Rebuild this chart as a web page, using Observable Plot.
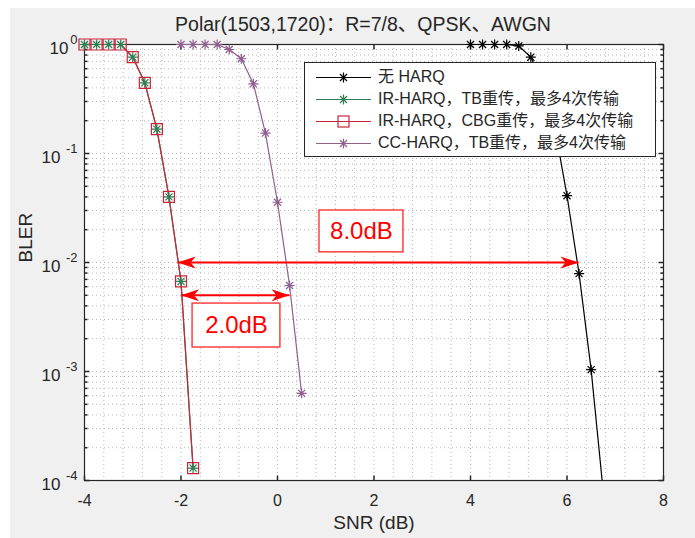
<!DOCTYPE html>
<html><head><meta charset="utf-8">
<script src="https://cdn.jsdelivr.net/npm/d3@7"></script>
<script src="https://cdn.jsdelivr.net/npm/@observablehq/plot@0.6"></script>
<style>
body{margin:0;background:#fff;font-family:"Liberation Sans","Noto Sans CJK SC",sans-serif;}
#wrap{position:relative;width:695px;height:538px;overflow:hidden;background:#fff}
#bg{position:absolute;left:10px;top:8px;width:685px;height:530px;background:#f0f0f0}
#chart{position:absolute;left:0;top:0}
#legend{position:absolute;left:304px;top:62px;width:350px;height:93px;background:#fff;border:1px solid #262626}
.row{position:absolute;left:0;height:22px;width:350px}
.row svg{position:absolute;left:0;top:0}
.row span{position:absolute;left:73px;top:0;line-height:22px;font-size:16px;color:#262626;white-space:nowrap}
</style></head>
<body>
<div id="wrap"><div id="bg"></div><div id="chart"></div><div id="legend"></div></div>
<script>
// ---- data ----
const titleText = "Polar(1503,1720)：R=7/8、QPSK、AWGN";
const xLabel = "SNR (dB)";
const yLabel = "BLER";
const seriesNames = ["无 HARQ", "IR-HARQ，TB重传，最多4次传输", "IR-HARQ，CBG重传，最多4次传输", "CC-HARQ，TB重传，最多4次传输"];
const seriesColors = ["#000000", "#2d7f54", "#c8253a", "#8f5f8f"];
const seriesSymbols = ["star", "star", "square", "star"];

const snrNoHarq = [4, 4.25, 4.5, 4.75, 5, 5.25, 5.5, 5.75, 6, 6.25, 6.5, 6.75];
const blerNoHarq = [1, 1, 1, 1, 0.97, 0.765, 0.45, 0.17, 0.041, 0.0079, 0.00104, 0.00008];
const snrIR = [-4, -3.75, -3.5, -3.25, -3, -2.75, -2.5, -2.25, -2, -1.75];
const blerIrTb = [1, 1, 1, 1, 0.765, 0.445, 0.167, 0.040, 0.0067, 0.00013];
const blerIrCbg = [1, 1, 1, 1, 0.765, 0.445, 0.167, 0.040, 0.0067, 0.00013];
const snrCC = [-2, -1.75, -1.5, -1.25, -1, -0.75, -0.5, -0.25, 0, 0.25, 0.5];
const blerCC = [1, 1, 1, 1, 0.90, 0.74, 0.436, 0.154, 0.0357, 0.00615, 0.00063];

const xTicks = [-4, -2, 0, 2, 4, 6, 8];
const yTickExps = [0, -1, -2, -3, -4];

const gapArrows = [
  {x1: -2.07, x2: 6.24, y: 0.01},
  {x1: -2.0, x2: 0.25, y: 0.005}
];
const gapBoxes = [
  {label: "8.0dB", x1: 0.87, x2: 2.61, y1: 0.0124, y2: 0.030},
  {label: "2.0dB", x1: -1.76, x2: 0.06, y1: 0.00166, y2: 0.0042}
];

// ---- build table ----
const seriesX = [snrNoHarq, snrIR, snrIR, snrCC];
const seriesY = [blerNoHarq, blerIrTb, blerIrCbg, blerCC];
const rows = [];
seriesNames.forEach((name, i) => seriesX[i].forEach((x, j) => rows.push({series: name, i, snr: x, bler: seriesY[i][j]})));

// ---- symbols ----
const star = {draw(ctx, size) { const r = Math.sqrt(size / Math.PI);
  for (let k = 0; k < 4; k++) { const a = k * Math.PI / 4; ctx.moveTo(r * Math.cos(a), r * Math.sin(a)); ctx.lineTo(-r * Math.cos(a), -r * Math.sin(a)); } }};
const square = {draw(ctx, size) { const r = Math.sqrt(size / Math.PI); ctx.rect(-r, -r, 2 * r, 2 * r); }};
const head = {draw(ctx) { ctx.moveTo(0, 0); ctx.lineTo(-18, -6); ctx.lineTo(-13, 0); ctx.lineTo(-18, 6); ctx.closePath(); }};
const tickSym = (dx, dy) => ({draw(ctx) { ctx.moveTo(0, 0); ctx.lineTo(dx, dy); }});
const symMap = {star, square};

// grid positions
const xGrid = d3.range(-4, 8.001, 0.4).map(v => +v.toFixed(2)).filter(v => v > -4 && v < 8);
const yMajor = yTickExps.map(e => Math.pow(10, e));
const yMinor = [];
for (let e = -4; e < 0; e++) for (let k = 2; k <= 9; k++) yMinor.push(k * Math.pow(10, e));
const yGridAll = yMajor.filter(v => v > 1e-4 && v < 1).concat(yMinor);

const axisColor = "#262626";
const txt = "#262626";
const fam = '"Liberation Sans","Noto Sans CJK SC",sans-serif';

const visible = rows.filter(d => d.bler >= 1e-4);

const marks = [
  Plot.frame({fill: "white", stroke: null}),
  Plot.ruleX(xGrid, {x: d => d, stroke: "#b8b8b8", strokeWidth: 1, strokeDasharray: "1,3"}),
  Plot.ruleY(yGridAll, {y: d => d, stroke: "#b8b8b8", strokeWidth: 1, strokeDasharray: "1,3"}),
  Plot.frame({stroke: axisColor, strokeWidth: 1.2}),
  // ticks
  Plot.dot(xTicks, {x: d => d, frameAnchor: "bottom", symbol: tickSym(0, -5), stroke: axisColor, fill: "none"}),
  Plot.dot(xTicks, {x: d => d, frameAnchor: "top", symbol: tickSym(0, 5), stroke: axisColor, fill: "none"}),
  Plot.dot(yMajor, {y: d => d, frameAnchor: "left", symbol: tickSym(5, 0), stroke: axisColor, fill: "none"}),
  Plot.dot(yMinor, {y: d => d, frameAnchor: "left", symbol: tickSym(3, 0), stroke: axisColor, fill: "none"}),
  Plot.dot(yMajor, {y: d => d, frameAnchor: "right", symbol: tickSym(-5, 0), stroke: axisColor, fill: "none"}),
  Plot.dot(yMinor, {y: d => d, frameAnchor: "right", symbol: tickSym(-3, 0), stroke: axisColor, fill: "none"}),
  // tick labels
  Plot.text(xTicks, {x: d => d, frameAnchor: "bottom", lineAnchor: "middle", dy: 20, text: d => String(d), fontSize: 16, fill: txt}),
  Plot.text(yTickExps.filter(e => e === 0), {y: e => Math.pow(10, e), frameAnchor: "left", lineAnchor: "middle", text: () => "10", textAnchor: "end", dx: -16, dy: 4, fontSize: 17, fill: txt}),
  Plot.text(yTickExps.filter(e => e !== 0), {y: e => Math.pow(10, e), frameAnchor: "left", lineAnchor: "middle", text: () => "10", textAnchor: "end", dx: -24, dy: 4, fontSize: 17, fill: txt}),
  Plot.text(yTickExps, {y: e => Math.pow(10, e), frameAnchor: "left", lineAnchor: "middle", text: e => String(e), textAnchor: "end", dx: -7, dy: -5, fontSize: 13, fill: txt}),
  // axis labels and title
  Plot.text([xLabel], {frameAnchor: "bottom", lineAnchor: "middle", dy: 42, text: d => d, fontSize: 19, fill: txt}),
  Plot.text([yLabel], {frameAnchor: "left", lineAnchor: "middle", dx: -59, rotate: -90, text: d => d, fontSize: 19, fill: txt}),
  Plot.text([titleText], {frameAnchor: "top", lineAnchor: "middle", dy: -20, dx: -11, text: d => d, fontSize: 19.5, fill: txt}),
  // data lines
  ...seriesNames.map((name, i) => Plot.line(rows.filter(d => d.i === i), {x: "snr", y: "bler", stroke: seriesColors[i], strokeWidth: 1.2, clip: true})),
  ...seriesNames.map((name, i) => Plot.dot(visible.filter(d => d.i === i), {x: "snr", y: "bler", symbol: symMap[seriesSymbols[i]], r: seriesSymbols[i] === "square" ? 5.5 : 5, stroke: seriesColors[i], strokeWidth: 1.2, fill: "none"})),
  // annotations
  Plot.link(gapArrows, {x1: "x1", x2: "x2", y1: "y", y2: "y", stroke: "#ff0000", strokeWidth: 2}),
  Plot.dot(gapArrows, {x: "x2", y: "y", symbol: head, fill: "#ff0000", stroke: "none"}),
  Plot.dot(gapArrows, {x: "x1", y: "y", symbol: head, rotate: 180, fill: "#ff0000", stroke: "none"}),
  Plot.rect(gapBoxes, {x1: "x1", x2: "x2", y1: "y1", y2: "y2", fill: "white", stroke: "#ff4040", strokeWidth: 1.5}),
  Plot.text(gapBoxes, {x: d => (d.x1 + d.x2) / 2, y: d => Math.sqrt(d.y1 * d.y2), text: "label", fontSize: 24, fill: "#ff0000"})
];

const chart = Plot.plot({
  width: 695, height: 538,
  marginLeft: 84, marginRight: 32, marginTop: 44, marginBottom: 58,
  style: {background: "transparent", fontFamily: fam},
  x: {domain: [-4, 8], axis: null},
  y: {type: "log", domain: [1e-4, 1], axis: null},
  marks
});
document.getElementById("chart").appendChild(chart);

// legend
const lg = document.getElementById("legend");
const rowTops = [3, 25, 47, 69];
seriesNames.forEach((name, i) => {
  const div = document.createElement("div");
  div.className = "row"; div.style.top = rowTops[i] + "px";
  const c = seriesColors[i];
  const mk = seriesSymbols[i] === "square"
    ? `<rect x="33" y="6" width="11" height="11" fill="none" stroke="${c}" stroke-width="1.2"/>`
    : `<path d="M43.5,11.5L33.5,11.5M38.5,6.5L38.5,16.5M42,8L35,15M42,15L35,8" stroke="${c}" stroke-width="1.2" fill="none"/>`;
  div.innerHTML = `<svg width="70" height="22"><line x1="11" x2="66" y1="11.5" y2="11.5" stroke="${c}" stroke-width="1.2"/>${mk}</svg><span>${name}</span>`;
  lg.appendChild(div);
});
</script>
</body></html>
